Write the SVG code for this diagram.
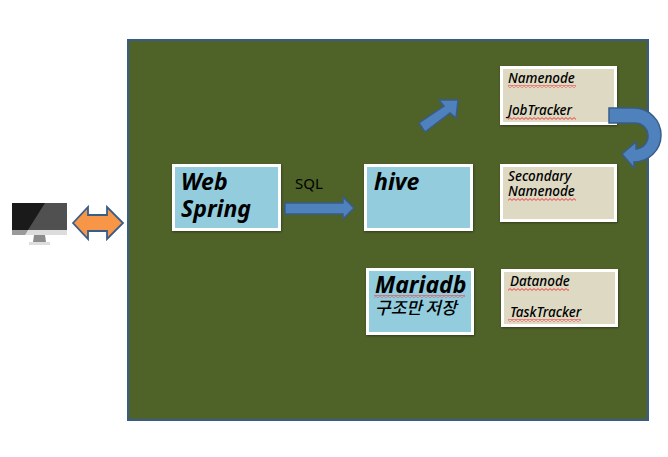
<svg xmlns="http://www.w3.org/2000/svg" width="668" height="457" viewBox="0 0 668 457">
<style>
.t{font-family:"Noto Sans","Noto Sans CJK KR",sans-serif;font-style:italic;font-weight:700;fill:#000}
.big{font-size:23px}
.small{font-size:13.5px;font-weight:500}
.kr{font-size:17px;font-weight:500;word-spacing:-1px}
.blue{fill:#93cddd;stroke:#fff;stroke-width:3;filter:url(#s)}
.tan{fill:#ddd9c3;stroke:#fff;stroke-width:3;filter:url(#s)}
.arrow{fill:#4f81bd;stroke:#385d8a;stroke-width:1.5}
.sq{fill:url(#zig)}
</style>
<defs>
<filter id="s" x="-10%" y="-10%" width="120%" height="120%"><feDropShadow dx="0.5" dy="1" stdDeviation="1" flood-color="#000" flood-opacity="0.4"/></filter>
<pattern id="zig" patternUnits="userSpaceOnUse" width="4" height="3"><path d="M0,2.4 L2,0.6 L4,2.4" fill="none" stroke="#ee3b3f" stroke-width="1"/></pattern>
</defs>
<rect id="frame" x="128" y="40" width="520" height="380" fill="#4f6228" stroke="#385d8a" stroke-width="2"/>
<g id="client">
<rect x="12" y="203" width="55" height="27" fill="#505050"/>
<path d="M12,203H45L28,230H12Z" fill="#1a1a1a"/>
<rect x="12" y="230" width="55" height="5" fill="#dcdcdc"/>
<path d="M12,230H28L25,235H12Z" fill="#9a9a9a"/>
<path d="M34,235H45L46,242H33Z" fill="#8c8c8c"/>
<rect x="29" y="242" width="21" height="3" fill="#dedede"/>
</g>
<g id="connectors">
<polygon id="c-client" points="73,223 88,207 88,215 107,215 107,207 123,223 107,239 107,231 88,231 88,239" fill="#f79646" stroke="#385d8a" stroke-width="1.8"/>
<polygon id="c-sql" class="arrow" points="285,203 343,203 343,197 354,208 343,219 343,214 285,214"/>
<polygon id="c-up" class="arrow" points="419,123 444,106 439,100 458,100 456,118 450,113 425,132"/>
</g>
<g id="web"><rect class="blue" x="173.500" y="165.500" width="106" height="64"/><text class="t big" x="181" y="190">Web</text><text class="t big" x="181" y="217">Spring</text></g>
<g id="sql"><text x="295" y="189" font-family="Noto Sans,sans-serif" font-size="15" fill="#000">SQL</text></g>
<g id="hive"><rect class="blue" x="365.500" y="165.500" width="106" height="64"/><text class="t big" x="374" y="190">hive</text></g>
<g id="mariadb"><rect class="blue" x="367.500" y="269.500" width="105" height="64"/><text class="t big" x="375" y="293">Mariadb</text><rect class="sq" x="374" y="295" width="91" height="3"/><text class="t kr" x="375" y="314">구조만 저장</text></g>
<g id="namenode"><rect class="tan" x="501.500" y="67.500" width="114" height="56"/><text class="t small" x="508" y="83">Namenode</text><rect class="sq" x="508" y="85" width="68" height="3"/><text class="t small" x="508" y="115">JobTracker</text><rect class="sq" x="508" y="117" width="68" height="3"/></g>
<g id="secondary"><rect class="tan" x="501.500" y="165.500" width="114" height="55"/><text class="t small" x="508" y="181">Secondary</text><text class="t small" x="508" y="196">Namenode</text><rect class="sq" x="508" y="198" width="68" height="3"/></g>
<g id="datanode"><rect class="tan" x="502.500" y="270.500" width="114" height="55"/><text class="t small" x="510" y="286">Datanode</text><rect class="sq" x="508" y="288" width="61" height="3"/><text class="t small" x="510" y="317">TaskTracker</text><rect class="sq" x="508" y="319" width="73" height="3"/></g>
<path id="c-turn" class="arrow" d="M609,108H634A27,27 0 0 1 634,162V168L622,154L636,142V149A13,13 0 0 0 634,123H609Z"/>
</svg>
